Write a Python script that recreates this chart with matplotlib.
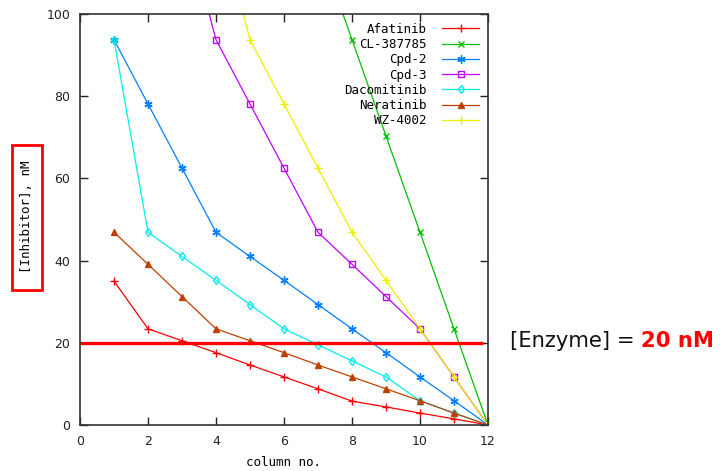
import matplotlib
matplotlib.use("Agg")
import matplotlib.pyplot as plt
from matplotlib.patches import Rectangle
import numpy as np

# Inhibitor concentration (nM) in each column of the dilution plate
columns = [1, 2, 3, 4, 5, 6, 7, 8, 9, 10, 11, 12]
afatinib = [35.0, 23.4, 20.5, 17.6, 14.6, 11.7, 8.8, 5.8, 4.4, 2.9, 1.5, 0.0]
cl387785_cols = [7, 8, 9, 10, 11, 12]
cl387785 = [117.2, 93.75, 70.3, 46.9, 23.4, 0.0]
cpd2 = [93.75, 78.1, 62.5, 46.9, 41.0, 35.2, 29.3, 23.4, 17.6, 11.7, 5.9, 0.0]
cpd3_cols = [3, 4, 5, 6, 7, 8, 9, 10, 11, 12]
cpd3 = [125.0, 93.75, 78.1, 62.5, 46.9, 39.1, 31.25, 23.4, 11.7, 0.0]
dacomitinib = [93.75, 46.9, 41.0, 35.2, 29.3, 23.4, 19.5, 15.6, 11.7, 5.9, 2.9, 0.0]
neratinib = [46.9, 39.1, 31.25, 23.4, 20.5, 17.6, 14.6, 11.7, 8.8, 5.9, 2.9, 0.0]
wz4002_cols = [4, 5, 6, 7, 8, 9, 10, 11, 12]
wz4002 = [125.0, 93.75, 78.1, 62.5, 46.9, 35.2, 23.4, 11.7, 0.0]

enzyme_conc = 20.0
enzyme_span = [0, 11.85]

x_ticks = [0, 2, 4, 6, 8, 10, 12]
y_ticks = [0, 20, 40, 60, 80, 100]

W, H = 720, 471
fig = plt.figure(figsize=(W / 100, H / 100), dpi=100)
ax = fig.add_axes([80 / W, 1 - 425 / H, (488 - 80) / W, (425 - 14) / H])

mono = "DejaVu Sans Mono"
asterisk = (6, 2, 0)

series = [
    ("Afatinib", columns, afatinib, "#ff0000", "+", 6, "none"),
    ("CL-387785", cl387785_cols, cl387785, "#00c000", "x", 4.5, "none"),
    ("Cpd-2", columns, cpd2, "#0080ff", asterisk, 6, "none"),
    ("Cpd-3", cpd3_cols, cpd3, "#c000ff", "s", 4.5, "none"),
    ("Dacomitinib", columns, dacomitinib, "#00eeee", "d", 4.5, "none"),
    ("Neratinib", columns, neratinib, "#c04000", "^", 4.5, "fill"),
    ("WZ-4002", wz4002_cols, wz4002, "#eeee00", "+", 6, "none"),
]

for name, xs, ys, color, marker, ms, fill in series:
    ax.plot(xs, ys, color=color, lw=0.9, marker=marker, ms=ms, mew=1.0,
            mfc=(color if fill == "fill" else "none"), mec=color, label=name,
            clip_on=True)

ax.plot(enzyme_span, [enzyme_conc, enzyme_conc], color="#ff0000", lw=2.4,
        solid_capstyle="butt")

ax.set_xlim(0, 12)
ax.set_ylim(0, 100)
ax.set_xticks(x_ticks)
ax.set_yticks(y_ticks)
ax.tick_params(direction="in", length=6, width=1.0, top=True, right=True,
               labelsize=9, colors="#222222", pad=7)
for s in ax.spines.values():
    s.set_linewidth(1.2)
    s.set_color("#333333")

ax.set_xlabel("column no.", fontfamily=mono, fontsize=9, labelpad=6)

leg = ax.legend(loc="upper right", markerfirst=False, frameon=False,
                prop={"family": mono, "size": 9}, handlelength=3.0,
                labelspacing=0.18, borderaxespad=0.3, handletextpad=1.2,
                borderpad=0.4)
for t in leg.get_texts():
    t.set_ha("right")
leg._legend_box.align = "right"

# y-axis caption inside a red frame
fig.text(27 / W, 1 - 217 / H, "[Inhibitor], nM", rotation=90, ha="center",
         va="center", fontfamily=mono, fontsize=9)
fig.patches.append(Rectangle((12 / W, 1 - 290 / H), 30 / W, 145 / H,
                             transform=fig.transFigure, fill=False,
                             edgecolor="#ff0000", lw=2.0))

t1 = fig.text(510 / W, 1 - 341 / H, "[Enzyme] = ", ha="left", va="center",
              fontsize=15.2, color="#111111")
renderer = fig.canvas.get_renderer()
bb = t1.get_window_extent(renderer)
fig.text(bb.x1 / W, 1 - 341 / H, "20 nM", ha="left", va="center",
         fontsize=15.2, color="#ff0000", fontweight="bold")

fig.savefig("out.png", dpi=100)
